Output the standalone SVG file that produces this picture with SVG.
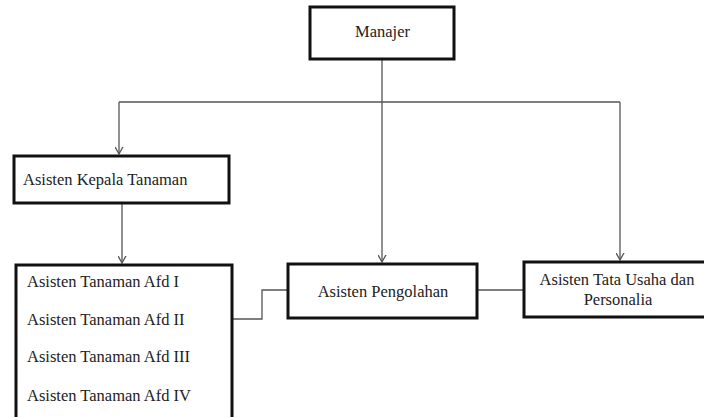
<svg xmlns="http://www.w3.org/2000/svg" width="704" height="417" viewBox="0 0 704 417">
<style>
.box{fill:#fff;stroke:#111;stroke-width:3}
.t{font-family:"Liberation Serif","Times New Roman",serif;font-size:16.5px;fill:#222}
.c{fill:none;stroke:#555;stroke-width:1.3}
</style>
<defs>
<marker id="arr" markerUnits="userSpaceOnUse" markerWidth="14" markerHeight="14" viewBox="-7 -10 14 14" refX="0" refY="0" orient="auto-start-reverse">
<polyline points="-5,-9 0,0 5,-9" fill="none" stroke="#555" stroke-width="1.3" transform="rotate(-90)"/>
</marker>
</defs>
<rect width="704" height="417" fill="#fff"/>
<g id="connectors">
<path class="c" d="M382 60 V262" marker-end="url(#arr)"/>
<path class="c" d="M119 102 H620"/>
<path class="c" d="M119 102 V154" marker-end="url(#arr)"/>
<path class="c" d="M620 102 V260" marker-end="url(#arr)"/>
<path class="c" d="M122 204 V263" marker-end="url(#arr)"/>
<path class="c" d="M233 319 H262 V290 H288"/>
<path class="c" d="M478 290 H523"/>
</g>
<g id="manajer">
<rect class="box" x="310" y="7" width="144" height="52"/>
<text class="t" x="382.5" y="37" text-anchor="middle">Manajer</text>
</g>
<g id="kepala">
<rect class="box" x="14" y="156" width="215" height="47"/>
<text class="t" x="23" y="185">Asisten Kepala Tanaman</text>
</g>
<g id="afd">
<rect class="box" x="16" y="265" width="216" height="160"/>
<text class="t" x="27" y="287">Asisten Tanaman Afd I</text>
<text class="t" x="27" y="325">Asisten Tanaman Afd II</text>
<text class="t" x="27" y="362">Asisten Tanaman Afd III</text>
<text class="t" x="27" y="401">Asisten Tanaman Afd IV</text>
</g>
<g id="pengolahan">
<rect class="box" x="288" y="264" width="189" height="54"/>
<text class="t" x="383" y="297" text-anchor="middle">Asisten Pengolahan</text>
</g>
<g id="tatausaha">
<rect class="box" x="524" y="262" width="190" height="55"/>
<text class="t" x="617" y="285" text-anchor="middle">Asisten Tata Usaha dan</text>
<text class="t" x="618" y="305" text-anchor="middle">Personalia</text>
</g>
</svg>
